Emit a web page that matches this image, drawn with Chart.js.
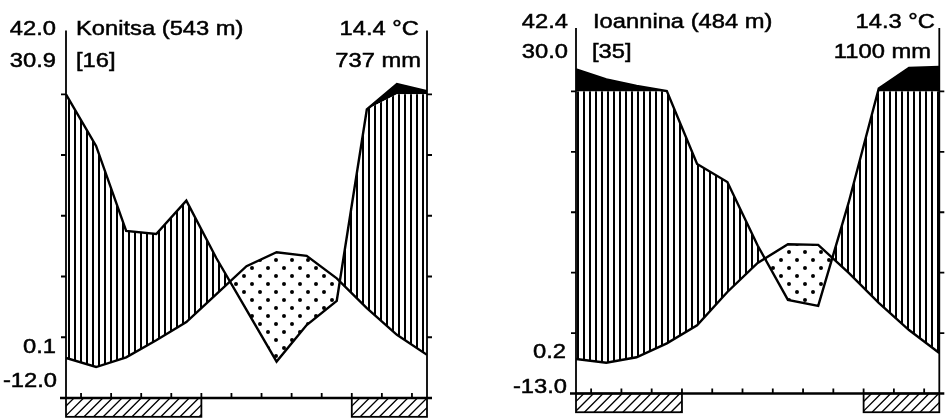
<!DOCTYPE html>
<html lang="en">
<head>
<meta charset="UTF-8">
<script src="https://cdn.jsdelivr.net/npm/chart.js"></script>
<title>Climate diagrams: Konitsa and Ioannina</title>
<style>
  body { margin: 0; background: #fff; }
  #wrap { position: relative; width: 946px; height: 419px; }
  canvas { position: absolute; top: 0; }
</style>
</head>
<body>
<div id="wrap">
  <canvas id="konitsa" width="473" height="419" style="left:0"></canvas>
  <canvas id="ioannina" width="473" height="419" style="left:473px"></canvas>
</div>
<script>
// curve vertices sit on the 13 month marks, ticks between them
const monthPos = [0, 1, 2, 3, 4, 5, 6, 7, 8, 9, 10, 11, 12];
const tickPos = [0.5, 1.5, 2.5, 3.5, 4.5, 5.5, 6.5, 7.5, 8.5, 9.5, 10.5, 11.5];
const tempTicks = [10, 20, 30, 40, 50];

// Konitsa: temperature (°C) and precipitation (mm)
const konitsaTemp = [6.6, 5.1, 6.7, 9.5, 12.5, 17.1, 21.7, 24.0, 23.4, 19.7, 14.8, 10.4, 7.1];
const konitsaRain = [100, 83, 55, 54, 65, 46, 29, 12, 24, 32, 95, 134, 110];
const konitsaFrost = [[0, 4.5], [9.5, 12]];
const konitsaLeft = ['42.0', '30.9'];
const konitsaHead = ['Konitsa (543 m)', '[16]'];
const konitsaRight = ['14.4 °C', '737 mm'];
const konitsaLow = ['0.1', '-12.0'];

// Ioannina
const ioanninaTemp = [5.7, 5.1, 6.0, 8.3, 11.3, 16.8, 21.6, 24.7, 24.6, 20.0, 15.0, 10.5, 6.7];
const ioanninaRain = [173, 140, 118, 101, 76, 70, 49, 31, 29, 63, 110, 178, 181];
const ioanninaFrost = [[0, 3.5], [9.5, 12]];
const ioanninaLeft = ['42.4', '30.0'];
const ioanninaHead = ['Ioannina (484 m)', '[35]'];
const ioanninaRight = ['14.3 °C', '1100 mm'];
const ioanninaLow = ['0.2', '-13.0'];

// 10 °C = 20 mm, above 100 mm one division = 200 mm
function rainScale(mm) {
  return mm <= 100 ? mm / 2 : 50 + (mm - 100) / 20;
}

function hatch(ctx) {
  const c = document.createElement('canvas');
  c.width = 6; c.height = 6;
  const g = c.getContext('2d');
  g.fillStyle = '#fff';
  g.fillRect(0, 0, 6, 6);
  g.fillStyle = '#000';
  g.fillRect(2, 0, 2, 6);
  return ctx.createPattern(c, 'repeat');
}

function dots(ctx) {
  const c = document.createElement('canvas');
  c.width = 16; c.height = 16;
  const g = c.getContext('2d');
  g.fillStyle = '#fff';
  g.fillRect(0, 0, 16, 16);
  g.fillStyle = '#000';
  g.beginPath();
  g.arc(4, 4, 2, 0, Math.PI * 2);
  g.arc(12, 12, 2, 0, Math.PI * 2);
  g.fill();
  return ctx.createPattern(c, 'repeat');
}

const frame = {
  id: 'frame',
  afterDatasetsDraw(chart, args, opts) {
    const { ctx, chartArea: a, scales: { x, y } } = chart;
    const y0 = y.getPixelForValue(0);
    ctx.save();
    ctx.strokeStyle = '#000';
    ctx.lineWidth = 1.8;
    ctx.beginPath();
    ctx.moveTo(a.left, a.top); ctx.lineTo(a.left, y0);
    ctx.moveTo(a.right, a.top); ctx.lineTo(a.right, y0);
    tempTicks.forEach(v => {
      const py = y.getPixelForValue(v);
      ctx.moveTo(a.left - 5, py); ctx.lineTo(a.left, py);
      ctx.moveTo(a.right, py); ctx.lineTo(a.right + 5, py);
    });
    tickPos.forEach(v => {
      const px = x.getPixelForValue(v);
      ctx.moveTo(px, y0); ctx.lineTo(px, y0 - 5);
    });
    ctx.stroke();

    ctx.lineWidth = 2.4;
    ctx.beginPath();
    ctx.moveTo(a.left - 6, y0); ctx.lineTo(a.right + 5, y0);
    ctx.stroke();

    // frost months
    const bot = y.getPixelForValue(-3.1);
    opts.frost.forEach(([s, e]) => {
      const l = x.getPixelForValue(s), r = x.getPixelForValue(e);
      ctx.save();
      ctx.beginPath(); ctx.rect(l, y0, r - l, bot - y0); ctx.clip();
      ctx.lineWidth = 1.3;
      ctx.beginPath();
      for (let sx = l - 30; sx < r + 30; sx += 9.6) {
        ctx.moveTo(sx, bot); ctx.lineTo(sx + (bot - y0), y0);
      }
      ctx.stroke();
      ctx.restore();
      ctx.lineWidth = 1.8;
      ctx.strokeRect(l, y0, r - l, bot - y0);
    });

    ctx.fillStyle = '#000';
    ctx.font = '21px "Liberation Sans", Arial, sans-serif';
    ctx.lineWidth = 0.5;
    opts.texts.forEach(t => {
      ctx.save();
      ctx.translate(t.x, t.y);
      ctx.scale(1.13, 1);
      ctx.textAlign = t.align;
      ctx.fillText(t.s, 0, 0);
      ctx.strokeText(t.s, 0, 0);
      ctx.restore();
    });
    ctx.restore();
  }
};

function drawPanel(id, temp, rain, frost, texts, pad, yMax) {
  const el = document.getElementById(id);
  const ctx = el.getContext('2d');
  const tempPts = monthPos.map((m, i) => ({ x: m, y: temp[i] }));
  const rainPts = monthPos.map((m, i) => ({ x: m, y: rainScale(rain[i]) }));
  const rainCut = monthPos.map((m, i) => ({ x: m, y: Math.min(rainScale(rain[i]), 50) }));
  const none = 'rgba(0,0,0,0)';
  new Chart(el, {
    type: 'line',
    data: {
      datasets: [
        // lines on top
        { data: tempPts, borderColor: '#000', borderWidth: 2.4, fill: false, order: 0 },
        { data: rainPts, borderColor: '#000', borderWidth: 2.4, fill: false, order: 1 },
        // humid (hatched) / arid (dotted) between precipitation and temperature
        { data: rainCut, borderColor: none, borderWidth: 1, order: 2,
          fill: { target: 0, above: hatch(ctx), below: dots(ctx) } },
        // white up to the 100 mm line, leaving only the part above it black
        { data: rainCut, borderColor: none, borderWidth: 1, order: 3,
          fill: { target: 'start', above: '#fff', below: '#fff' } },
        { data: rainPts, borderColor: none, borderWidth: 1, order: 4,
          fill: { target: 'start', above: '#000', below: '#000' } }
      ]
    },
    options: {
      responsive: false,
      animation: false,
      layout: { padding: pad },
      elements: { point: { radius: 0 }, line: { tension: 0 } },
      plugins: {
        legend: { display: false },
        tooltip: { enabled: false },
        frame: { frost: frost, texts: texts }
      },
      scales: {
        x: { type: 'linear', min: 0, max: 12, display: false },
        y: { min: 0, max: yMax, display: false }
      }
    },
    plugins: [frame]
  });
}

drawPanel('konitsa', konitsaTemp, konitsaRain, konitsaFrost, [
  { s: konitsaLeft[0], x: 56, y: 35, align: 'right' },
  { s: konitsaLeft[1], x: 56, y: 66.5, align: 'right' },
  { s: konitsaHead[0], x: 76, y: 35, align: 'left' },
  { s: konitsaHead[1], x: 76, y: 66.5, align: 'left' },
  { s: konitsaRight[0], x: 419, y: 35, align: 'right' },
  { s: konitsaRight[1], x: 421, y: 66.5, align: 'right' },
  { s: konitsaLow[0], x: 56, y: 353, align: 'right' },
  { s: konitsaLow[1], x: 57, y: 387, align: 'right' }
], { left: 66, right: 46, top: 30.5, bottom: 21 }, 60.5);

drawPanel('ioannina', ioanninaTemp, ioanninaRain, ioanninaFrost, [
  { s: ioanninaLeft[0], x: 95, y: 28.3, align: 'right' },
  { s: ioanninaLeft[1], x: 95, y: 58.3, align: 'right' },
  { s: ioanninaHead[0], x: 120, y: 28.3, align: 'left' },
  { s: ioanninaHead[1], x: 119, y: 58.3, align: 'left' },
  { s: ioanninaRight[0], x: 462, y: 28.3, align: 'right' },
  { s: ioanninaRight[1], x: 458, y: 58.3, align: 'right' },
  { s: ioanninaLow[0], x: 93, y: 358, align: 'right' },
  { s: ioanninaLow[1], x: 94, y: 393, align: 'right' }
], { left: 103, right: 6.7, top: 28, bottom: 25.5 }, 60.5);
</script>
</body>
</html>
